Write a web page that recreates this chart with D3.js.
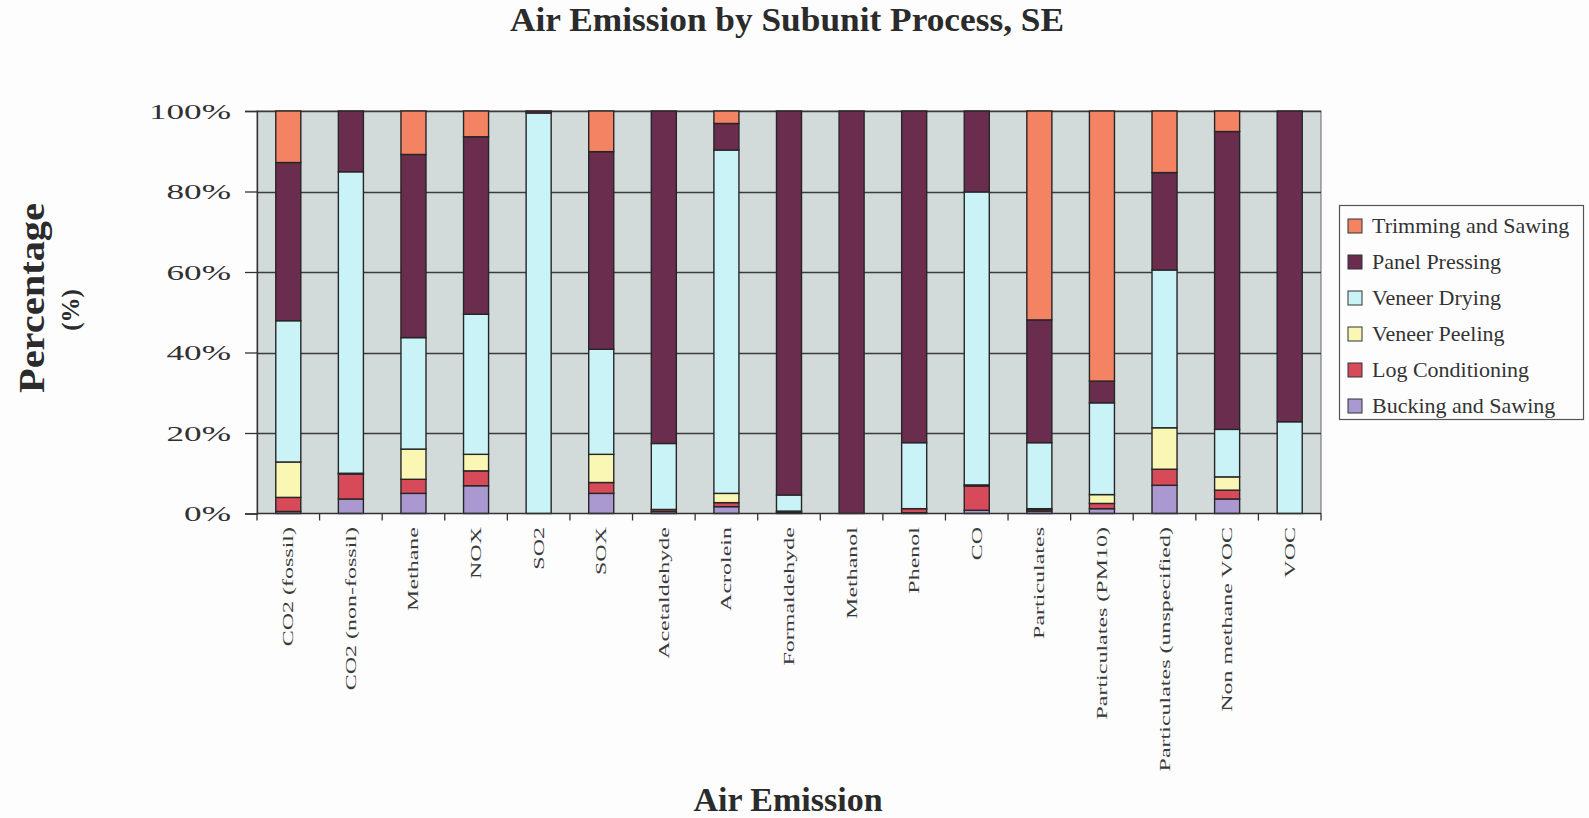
<!DOCTYPE html>
<html>
<head>
<meta charset="utf-8">
<script src="https://cdn.jsdelivr.net/npm/d3@7"></script>
<style>
  html, body { margin: 0; padding: 0; background: #fdfdfd; }
  svg { display: block; }
  text { font-family: "Liberation Serif", "Times New Roman", serif; }
</style>
</head>
<body>
<svg id="chart" width="1589" height="818"></svg>
<script>
const categories = ["CO2 (fossil)", "CO2 (non-fossil)", "Methane", "NOX", "SO2", "SOX",
  "Acetaldehyde", "Acrolein", "Formaldehyde", "Methanol", "Phenol", "CO", "Particulates",
  "Particulates (PM10)", "Particulates (unspecified)", "Non methane VOC", "VOC"];

const seriesNames = ["Bucking and Sawing", "Log Conditioning", "Veneer Peeling",
  "Veneer Drying", "Panel Pressing", "Trimming and Sawing"];

const buckingAndSawing   = [0.5, 3.6, 5.0, 6.9, 0, 5.0, 0.5, 1.7, 0.3, 0, 0.2, 0.8, 0.6, 1.2, 7.0, 3.6, 0];
const logConditioning    = [3.5, 6.2, 3.5, 3.7, 0, 2.7, 0.5, 1.0, 0.3, 0, 1.0, 6.0, 0.4, 1.3, 4.0, 2.2, 0];
const veneerPeeling      = [8.8, 0.2, 7.5, 4.1, 0, 7.0, 0, 2.3, 0, 0, 0, 0.3, 0.2, 2.2, 10.3, 3.3, 0];
const veneerDrying       = [35.1, 74.9, 27.7, 34.8, 99.5, 26.1, 16.4, 85.3, 4.0, 0, 16.4, 72.8, 16.4, 22.8, 39.2, 11.8, 22.8];
const panelPressing      = [39.3, 15.1, 45.5, 44.1, 0.5, 49.1, 82.6, 6.6, 95.4, 100, 82.4, 20.1, 30.5, 5.4, 24.2, 74.0, 77.2];
const trimmingAndSawing  = [12.8, 0, 10.8, 6.4, 0, 10.1, 0, 3.1, 0, 0, 0, 0, 51.9, 67.1, 15.3, 5.1, 0];

const yTicks = [0, 20, 40, 60, 80, 100];
const legendOrder = ["Trimming and Sawing", "Panel Pressing", "Veneer Drying",
  "Veneer Peeling", "Log Conditioning", "Bucking and Sawing"];

const colors = {
  "Trimming and Sawing": "#f38363",
  "Panel Pressing": "#6b2d4e",
  "Veneer Drying": "#c9f3f7",
  "Veneer Peeling": "#f9f7b3",
  "Log Conditioning": "#d64a5a",
  "Bucking and Sawing": "#a999d0"
};

const seriesValues = [buckingAndSawing, logConditioning, veneerPeeling,
  veneerDrying, panelPressing, trimmingAndSawing];

const table = categories.map((c, i) => {
  const row = { category: c };
  seriesNames.forEach((s, j) => { row[s] = seriesValues[j][i]; });
  return row;
});

const svg = d3.select("#chart");
const plot = { left: 257, right: 1321, top: 111, bottom: 513.5 };
const axisColor = "#333";
const textColor = "#2b2b2b";

const x = d3.scaleBand().domain(categories).range([plot.left, plot.right])
  .paddingInner(0.6).paddingOuter(0.3);
const y = d3.scaleLinear().domain([0, 100]).range([plot.bottom, plot.top]);

// plot background
svg.append("rect")
  .attr("x", plot.left).attr("y", plot.top)
  .attr("width", plot.right - plot.left).attr("height", plot.bottom - plot.top)
  .attr("fill", "#d2dada").attr("stroke", "#666").attr("stroke-width", 1);

// gridlines
svg.append("g").selectAll("line").data(yTicks.filter(t => t > 0)).join("line")
  .attr("x1", plot.left).attr("x2", plot.right)
  .attr("y1", d => Math.round(y(d)) + 0.5).attr("y2", d => Math.round(y(d)) + 0.5)
  .attr("stroke", "#3c3c3c").attr("stroke-width", 1.3);

// stacked bars
const stack = d3.stack().keys(seriesNames);
const stacked = stack(table);
svg.append("g").selectAll("g").data(stacked).join("g")
  .attr("fill", d => colors[d.key])
  .selectAll("rect").data(d => d.filter(p => p[1] - p[0] > 0)).join("rect")
  .attr("x", d => x(d.data.category))
  .attr("width", x.bandwidth())
  .attr("y", d => y(d[1]))
  .attr("height", d => y(d[0]) - y(d[1]))
  .attr("stroke", "#262626").attr("stroke-width", 1.4);

// Y axis
const yAxis = svg.append("g").attr("transform", `translate(${plot.left},0)`)
  .call(d3.axisLeft(y).tickValues(yTicks).tickSize(12).tickFormat(""));
yAxis.select(".domain").attr("stroke", axisColor).attr("stroke-width", 1.3);
yAxis.selectAll(".tick line").attr("stroke", axisColor).attr("stroke-width", 1.3);

svg.append("g").selectAll("text").data(yTicks).join("text")
  .attr("transform", d => `translate(231,${y(d) + 7.5}) scale(1.6,1)`)
  .attr("text-anchor", "end")
  .attr("font-size", 22)
  .attr("fill", "#303030")
  .text(d => d + "%");

// X axis
const xTickPositions = d3.range(categories.length + 1).map(i => plot.left + i * x.step());
const xAxisG = svg.append("g");
xAxisG.append("line").attr("x1", plot.left).attr("x2", plot.right)
  .attr("y1", plot.bottom).attr("y2", plot.bottom)
  .attr("stroke", axisColor).attr("stroke-width", 1.3);
xAxisG.selectAll("line.tk").data(xTickPositions).join("line").attr("class", "tk")
  .attr("x1", d => d).attr("x2", d => d)
  .attr("y1", plot.bottom).attr("y2", plot.bottom + 7)
  .attr("stroke", axisColor).attr("stroke-width", 1.3);

svg.append("g").selectAll("text").data(categories).join("text")
  .attr("transform", d => `translate(${x(d) + x.bandwidth() / 2 + 5},527) rotate(-90) scale(1.6,1)`)
  .attr("text-anchor", "end")
  .attr("font-size", 15)
  .attr("fill", "#3a3a3a")
  .text(d => d);

// Title
svg.append("text")
  .attr("x", 787).attr("y", 31)
  .attr("text-anchor", "middle")
  .attr("font-size", 33).attr("font-weight", "bold")
  .attr("textLength", 554).attr("lengthAdjust", "spacingAndGlyphs")
  .attr("fill", textColor)
  .text("Air Emission by Subunit Process, SE");

// X axis title
svg.append("text")
  .attr("x", 788).attr("y", 811)
  .attr("text-anchor", "middle")
  .attr("font-size", 34).attr("font-weight", "bold")
  .attr("fill", textColor)
  .text("Air Emission");

// Y axis title
svg.append("text")
  .attr("transform", "translate(44,298) rotate(-90)")
  .attr("text-anchor", "middle")
  .attr("font-size", 35).attr("font-weight", "bold")
  .attr("textLength", 190).attr("lengthAdjust", "spacingAndGlyphs")
  .attr("fill", textColor)
  .text("Percentage");
svg.append("text")
  .attr("transform", "translate(79,310) rotate(-90)")
  .attr("text-anchor", "middle")
  .attr("font-size", 25).attr("font-weight", "bold")
  .attr("fill", textColor)
  .text("(%)");

// Legend
const legend = svg.append("g");
legend.append("rect")
  .attr("x", 1339.5).attr("y", 205.5).attr("width", 244).attr("height", 214)
  .attr("fill", "#fdfdfd").attr("stroke", "#555").attr("stroke-width", 1.2);
const items = legend.selectAll("g.item").data(legendOrder).join("g").attr("class", "item")
  .attr("transform", (d, i) => `translate(1348,${219 + i * 36})`);
items.append("rect")
  .attr("width", 14).attr("height", 14)
  .attr("fill", d => colors[d]).attr("stroke", "#333").attr("stroke-width", 1);
items.append("text")
  .attr("x", 24).attr("y", 14)
  .attr("font-size", 22)
  .attr("fill", "#333")
  .text(d => d);
</script>
</body>
</html>
